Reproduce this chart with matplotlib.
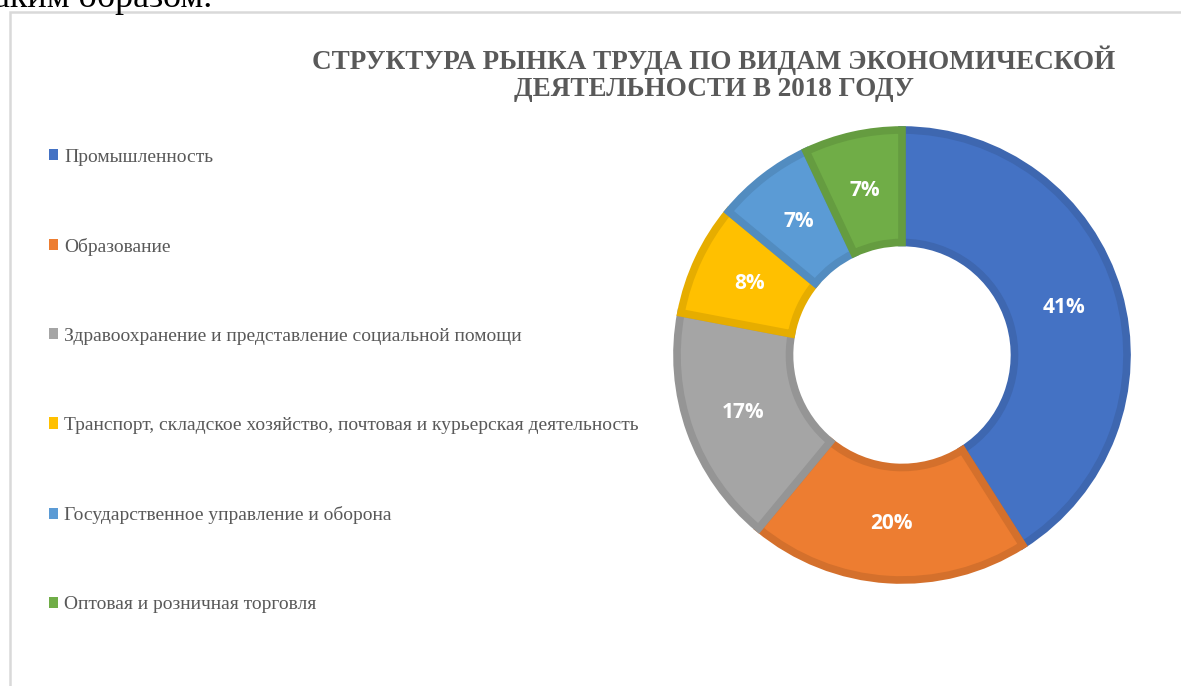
import matplotlib
matplotlib.use("Agg")
import matplotlib.pyplot as plt
from matplotlib.patches import Patch, Rectangle

# data
categories = [
    "Промышленность",
    "Образование",
    "Здравоохранение и представление социальной помощи",
    "Транспорт, складское хозяйство, почтовая и курьерская деятельность",
    "Государственное управление и оборона",
    "Оптовая и розничная торговля",
]
shares = [41, 20, 17, 8, 7, 7]
face_colors = ["#4472C4", "#ED7D31", "#A5A5A5", "#FFC000", "#5B9BD5", "#70AD47"]
edge_colors = ["#3E67B0", "#D4702C", "#959595", "#E6AD00", "#528CC0", "#659C40"]
title = "СТРУКТУРА РЫНКА ТРУДА ПО ВИДАМ ЭКОНОМИЧЕСКОЙ\nДЕЯТЕЛЬНОСТИ В 2018 ГОДУ"

W, H = 1181, 686
fig = plt.figure(figsize=(W / 100, H / 100), dpi=100)
fig.patch.set_facecolor("white")

# frame of the embedded chart (only left and top edges visible)
fig.add_artist(Rectangle((10 / W, -0.05), 1.1, 1.05 - 12 / H,
                         transform=fig.transFigure, fill=False,
                         edgecolor="#D9D9D9", linewidth=1.8))

# clipped document text above the chart
fig.text(-6 / W, 1 - 7 / H, "аким образом.", fontsize=26,
         family="Liberation Serif", color="black", va="baseline", ha="left")

# donut
cx, cy, r = 902, H - 355, 225
half = 240
ax = fig.add_axes([(cx - half) / W, (cy - half) / H, 2 * half / W, 2 * half / H])
wedges, texts, autotexts = ax.pie(
    shares,
    colors=face_colors,
    startangle=90,
    counterclock=False,
    radius=1.0,
    autopct="%d%%",
    pctdistance=0.75,
    wedgeprops=dict(width=0.5, linewidth=5.5),
    textprops=dict(color="white", fontsize=15, fontweight="bold", family="Open Sans"),
)
for w, ec in zip(wedges, edge_colors):
    w.set_edgecolor(ec)
lim = half / r
ax.set_xlim(-lim, lim)
ax.set_ylim(-lim, lim)
ax.set_aspect("equal")
ax.axis("off")

# title
fig.text(714 / W, 1 - 74 / H, title, ha="center", va="center",
         family="Liberation Serif", fontweight="bold", fontsize=19.5,
         color="#595959", linespacing=1.1)

# legend
handles = [Patch(facecolor=c, edgecolor="none") for c in face_colors]
leg = fig.legend(
    handles, categories,
    loc="upper left",
    bbox_to_anchor=(31 / W, 1 - 131 / H),
    frameon=False,
    handlelength=0.5, handleheight=0.5, handletextpad=0.3,
    labelspacing=3.71,
    prop=dict(family="Liberation Serif", size=14),
    labelcolor="#595959",
)

fig.savefig("out.png", dpi=100)
